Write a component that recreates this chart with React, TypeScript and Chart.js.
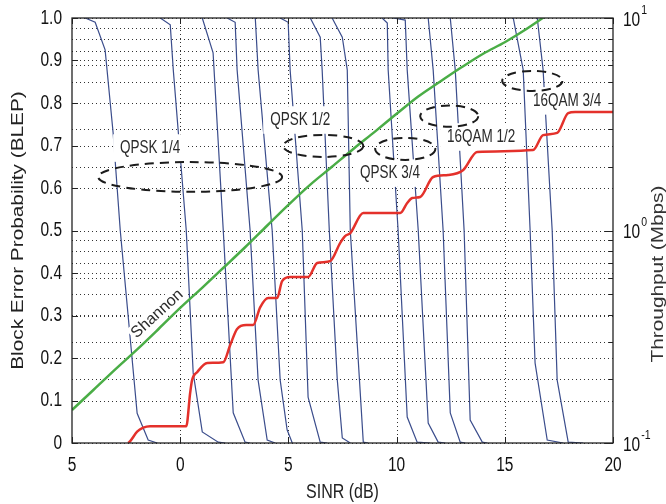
import React, { useEffect, useRef } from 'react';
import { Chart, registerables } from 'chart.js';

Chart.register(...registerables);

// ---- axes ----
const sinrTicks = [-5, 0, 5, 10, 15, 20];
const sinrTickLabels = ['5', '0', '5', '10', '15', '20'];
const blepTicks = [0, 0.1, 0.2, 0.3, 0.4, 0.5, 0.6, 0.7, 0.8, 0.9, 1.0];
const blepTickLabels = ['0', '0.1', '0.2', '0.3', '0.4', '0.5', '0.6', '0.7', '0.8', '0.9', '1.0'];
const throughputDecades = [0.1, 1, 10];
const throughputExponents = ['-1', '0', '1'];

// ---- BLEP curves (SINR dB, BLEP) ----
const blepCurveSinr: number[][] = [
  [-4.39, -3.93, -3.47, -3.10, -2.77, -1.99, -1.48, -1.06],
  [-0.92, -0.46, -0.32, 0.28, 0.60, 1.02, 1.76, 2.08],
  [1.02, 1.52, 1.99, 2.45, 3.00, 3.23],
  [2.17, 2.54, 2.63, 3.23, 3.60, 4.02, 4.39],
  [3.47, 3.60, 4.25, 4.62, 4.94, 5.18],
  [4.62, 4.99, 5.08, 5.64, 5.91, 6.47, 6.79],
  [6.01, 6.47, 6.56, 6.89, 7.26, 7.49, 7.86],
  [7.02, 7.49, 7.72, 7.86, 8.46, 8.69],
  [9.33, 9.57, 9.61, 10.07, 10.49, 10.95, 11.55],
  [9.84, 10.40, 10.49, 11.00, 11.46, 11.92, 12.25],
  [11.46, 11.69, 12.15, 12.48, 12.94, 13.17],
  [12.48, 12.71, 13.12, 13.40, 13.96, 14.19],
  [15.39, 15.85, 16.17, 16.40, 16.96, 17.70],
  [16.50, 16.77, 17.19, 17.42, 17.93, 18.62],
];
const blepCurveValues: number[][] = [
  [1, 0.99, 0.925, 0.73, 0.50, 0.07, 0.007, 0],
  [1, 0.984, 0.878, 0.50, 0.165, 0.026, 0.002, 0],
  [1, 0.918, 0.50, 0.071, 0.002, 0],
  [1, 0.99, 0.878, 0.50, 0.148, 0.007, 0],
  [1, 0.878, 0.50, 0.148, 0.031, 0],
  [1, 0.99, 0.878, 0.50, 0.108, 0.002, 0],
  [1, 0.955, 0.878, 0.50, 0.148, 0.012, 0],
  [1, 0.955, 0.878, 0.50, 0.002, 0],
  [1, 0.988, 0.878, 0.50, 0.061, 0.002, 0],
  [1, 0.995, 0.878, 0.50, 0.047, 0.002, 0],
  [1, 0.878, 0.50, 0.071, 0.002, 0],
  [1, 0.878, 0.50, 0.054, 0.002, 0],
  [1, 0.878, 0.50, 0.188, 0.007, 0],
  [1, 0.878, 0.50, 0.148, 0.002, 0],
];

// ---- Throughput (Mbps, log axis) ----
const throughputSinr = [-2.40, -2.31, -1.99, -1.71, -1.39, -1.06, 0.28, 0.46, 0.55, 0.79, 1.25, 1.99, 2.31, 2.63, 3.05, 3.37, 3.70, 4.07, 4.48, 4.71, 5.08, 5.91, 6.33, 6.93, 7.39, 7.62, 7.86, 8.46, 10.17, 10.49, 10.72, 11.09, 11.69, 12.38, 13.08, 13.72, 16.31, 16.77, 17.42, 17.93, 18.25, 20];
const throughputMbps = [0.1, 0.102, 0.113, 0.118, 0.120, 0.120, 0.120, 0.172, 0.198, 0.216, 0.238, 0.240, 0.289, 0.344, 0.359, 0.359, 0.436, 0.481, 0.481, 0.578, 0.604, 0.604, 0.703, 0.718, 0.873, 0.942, 0.973, 1.209, 1.209, 1.347, 1.422, 1.438, 1.786, 1.824, 1.926, 2.34, 2.39, 2.81, 2.88, 3.57, 3.61, 3.61];

const shannonSinr = [-5, -4, -3, -2, -1, 0, 1, 2, 3, 4, 5, 6, 7, 8, 9, 10, 11, 12, 13, 14, 15, 16, 17];
const shannonMbps = [0.143, 0.178, 0.222, 0.275, 0.344, 0.432, 0.536, 0.668, 0.834, 1.05, 1.32, 1.64, 1.99, 2.42, 2.92, 3.54, 4.27, 5.01, 5.86, 6.79, 7.69, 8.87, 10.4];

// ---- annotations (data coordinates) ----
const mcsLabels = ['QPSK 1/4', 'QPSK 1/2', 'QPSK 3/4', '16QAM 1/2', '16QAM 3/4'];
const mcsLabelSinr = [-1.39, 5.55, 9.70, 13.91, 17.88];
const mcsLabelBlep = [0.694, 0.760, 0.635, 0.720, 0.805];
const mcsEllipseSinr = [0.46, 6.61, 10.40, 12.43, 16.27];
const mcsEllipseBlep = [0.626, 0.699, 0.692, 0.769, 0.852];
const mcsEllipseHalfDb = [4.25, 1.85, 1.39, 1.34, 1.39];
const mcsEllipseHalfBlep = [0.035, 0.026, 0.026, 0.025, 0.0235];
const shannonLabel = 'Shannon';
const shannonLabelSinr = -1.06;
const shannonLabelBlep = 0.304;

const FONT = "'Liberation Sans', Arial, Helvetica, sans-serif";
const STRETCH = 1.3;
const GREEN_INDEX = blepCurveSinr.length;

function drawText(ctx: CanvasRenderingContext2D, text: string, x: number, y: number, size: number, color: string, align: CanvasTextAlign, vertical = false) {
  ctx.save();
  ctx.translate(x, y);
  if (vertical) {
    ctx.rotate(-Math.PI / 2);
    ctx.scale(STRETCH, 1);
  } else {
    ctx.scale(1, STRETCH);
  }
  ctx.font = `${size}px ${FONT}`;
  ctx.fillStyle = color;
  ctx.textAlign = align;
  ctx.textBaseline = 'middle';
  ctx.fillText(text, 0, 0);
  ctx.restore();
}

const gridPlugin = {
  id: 'gridPlugin',
  beforeDatasetsDraw(chart: any) {
    const { ctx, chartArea, scales } = chart;
    const { left, right, top, bottom } = chartArea;
    ctx.save();
    ctx.strokeStyle = '#333333';
    ctx.lineWidth = 1;
    ctx.setLineDash([1, 3]);
    const hLine = (py: number) => {
      const y = Math.round(py) + 0.5;
      ctx.beginPath(); ctx.moveTo(left, y); ctx.lineTo(right, y); ctx.stroke();
    };
    sinrTicks.forEach((v) => {
      if (v <= sinrTicks[0] || v >= sinrTicks[sinrTicks.length - 1]) return;
      const x = Math.round(scales.x.getPixelForValue(v)) + 0.5;
      ctx.beginPath(); ctx.moveTo(x, top); ctx.lineTo(x, bottom); ctx.stroke();
    });
    blepTicks.forEach((v) => hLine(scales.y.getPixelForValue(v)));
    for (let d = 0; d < throughputDecades.length - 1; d++) {
      for (let m = 2; m <= 9; m++) hLine(scales.y2.getPixelForValue(throughputDecades[d] * m));
    }
    ctx.restore();
  },
  beforeDatasetDraw(chart: any, args: any) {
    if (args.index !== GREEN_INDEX) return;
    const { ctx, scales } = chart;
    const xs = scales.x, ys = scales.y;
    // MCS labels with white backgrounds (hide the BLEP curves beneath)
    ctx.save();
    const LS = 13.5;
    ctx.font = `${LS}px ${FONT}`;
    mcsLabels.forEach((t, i) => {
      const cx = xs.getPixelForValue(mcsLabelSinr[i]);
      const cy = ys.getPixelForValue(mcsLabelBlep[i]);
      const w = ctx.measureText(t).width;
      const h = LS * STRETCH;
      ctx.fillStyle = '#ffffff';
      ctx.fillRect(cx - w / 2 - 7, cy - h / 2 - 5, w + 14, h + 10);
      drawText(ctx, t, cx, cy, LS, '#2a2a2a', 'center');
    });
    {
      const cx = xs.getPixelForValue(shannonLabelSinr);
      const cy = ys.getPixelForValue(shannonLabelBlep);
      ctx.save();
      ctx.translate(cx, cy);
      ctx.rotate(-0.74);
      ctx.font = `16px ${FONT}`;
      const w = ctx.measureText(shannonLabel).width;
      ctx.fillStyle = '#ffffff';
      ctx.fillRect(-w / 2 - 2, -9, w + 4, 18);
      ctx.fillStyle = '#2a2a2a';
      ctx.textAlign = 'center';
      ctx.textBaseline = 'middle';
      ctx.fillText(shannonLabel, 0, 0);
      ctx.restore();
    }
    ctx.restore();
  },
  afterDraw(chart: any) {
    const { ctx, chartArea, scales } = chart;
    const { left, right, top, bottom } = chartArea;
    const xs = scales.x, ys = scales.y, y2 = scales.y2;

    // dashed ellipses
    ctx.save();
    ctx.strokeStyle = '#1c1c1c';
    ctx.lineWidth = 2;
    ctx.setLineDash([9, 6]);
    mcsEllipseSinr.forEach((s, i) => {
      const cx = xs.getPixelForValue(s);
      const cy = ys.getPixelForValue(mcsEllipseBlep[i]);
      const rx = Math.abs(xs.getPixelForValue(s + mcsEllipseHalfDb[i]) - cx);
      const ry = Math.abs(ys.getPixelForValue(mcsEllipseBlep[i] + mcsEllipseHalfBlep[i]) - cy);
      ctx.beginPath();
      ctx.ellipse(cx, cy, rx, ry, 0, 0, Math.PI * 2);
      ctx.stroke();
    });
    ctx.restore();

    // frame + inward ticks
    ctx.save();
    ctx.strokeStyle = '#222';
    ctx.lineWidth = 1.3;
    ctx.strokeRect(left, top, right - left, bottom - top);
    ctx.lineWidth = 1;
    ctx.beginPath();
    blepTicks.forEach((v) => {
      const y = Math.round(ys.getPixelForValue(v)) + 0.5;
      ctx.moveTo(left, y); ctx.lineTo(left + 6, y);
    });
    sinrTicks.forEach((v) => {
      const x = Math.round(xs.getPixelForValue(v)) + 0.5;
      ctx.moveTo(x, bottom); ctx.lineTo(x, bottom - 6);
      ctx.moveTo(x, top); ctx.lineTo(x, top + 6);
    });
    throughputDecades.forEach((v, d) => {
      const y = Math.round(y2.getPixelForValue(v)) + 0.5;
      ctx.moveTo(right, y); ctx.lineTo(right - 8, y);
      if (d < throughputDecades.length - 1) {
        for (let m = 2; m <= 9; m++) {
          const ym = Math.round(y2.getPixelForValue(v * m)) + 0.5;
          ctx.moveTo(right, ym); ctx.lineTo(right - 4, ym);
        }
      }
    });
    ctx.stroke();
    ctx.restore();

    // tick labels
    sinrTicks.forEach((v, i) => {
      drawText(ctx, sinrTickLabels[i], xs.getPixelForValue(v), bottom + 22, 15.5, '#111', 'center');
    });
    blepTicks.forEach((v, i) => {
      drawText(ctx, blepTickLabels[i], left - 10, ys.getPixelForValue(v), 15.5, '#111', 'right');
    });
    throughputDecades.forEach((v, i) => {
      const py = y2.getPixelForValue(v);
      const x0 = right + 10;
      drawText(ctx, '10', x0, py + 2, 15.5, '#111', 'left');
      ctx.save();
      ctx.font = `15.5px ${FONT}`;
      const w = ctx.measureText('10').width;
      ctx.restore();
      drawText(ctx, throughputExponents[i], x0 + w + 1, py - 8, 10.5, '#111', 'left');
    });

    // axis titles
    drawText(ctx, 'SINR (dB)', (left + right) / 2, 492, 16, '#222', 'center');
    drawText(ctx, 'Block Error Probability (BLEP)', 19, (top + bottom) / 2, 16, '#222', 'center', true);
    drawText(ctx, 'Throughput (Mbps)', 659, 274, 16, '#333', 'center', true);
  },
};

export default function App() {
  const ref = useRef<HTMLCanvasElement>(null);
  useEffect(() => {
    const blueSets = blepCurveSinr.map((xsArr, i) => ({
      label: `BLEP ${i + 1}`,
      data: xsArr.map((x, j) => ({ x, y: blepCurveValues[i][j] })),
      borderColor: '#3b4d8c',
      borderWidth: 1.2,
      pointRadius: 0,
      tension: 0,
      fill: false,
      order: 2,
      xAxisID: 'x',
      yAxisID: 'y',
    }));
    const chart = new Chart(ref.current as HTMLCanvasElement, {
      type: 'line',
      data: {
        datasets: [
          ...blueSets,
          {
            label: 'Shannon',
            data: shannonSinr.map((x, j) => ({ x, y: shannonMbps[j] })),
            borderColor: '#4aad46',
            borderWidth: 2.5,
            pointRadius: 0,
            cubicInterpolationMode: 'monotone',
            fill: false,
            order: 1,
            xAxisID: 'x',
            yAxisID: 'y2',
          },
          {
            label: 'Throughput',
            data: throughputSinr.map((x, j) => ({ x, y: throughputMbps[j] })),
            borderColor: '#e4312b',
            borderWidth: 2.5,
            pointRadius: 0,
            cubicInterpolationMode: 'monotone',
            fill: false,
            order: 0,
            xAxisID: 'x',
            yAxisID: 'y2',
          },
        ] as any,
      },
      options: {
        responsive: true,
        maintainAspectRatio: false,
        animation: false,
        events: [],
        layout: { padding: { top: 18, left: 0, right: 0, bottom: 0 }, autoPadding: false } as any,
        plugins: { legend: { display: false }, tooltip: { enabled: false } },
        scales: {
          x: {
            type: 'linear', min: -5, max: 20,
            ticks: { display: false, stepSize: 5 },
            grid: { display: false },
            border: { display: false },
            afterFit: (s: any) => { s.height = 61; },
          },
          y: {
            type: 'linear', position: 'left', min: 0, max: 1,
            ticks: { display: false, stepSize: 0.1 },
            grid: { display: false },
            border: { display: false },
            afterFit: (s: any) => { s.width = 72; },
          },
          y2: {
            type: 'logarithmic', position: 'right', min: 0.1, max: 10,
            ticks: { display: false },
            grid: { display: false },
            border: { display: false },
            afterFit: (s: any) => { s.width = 53; },
          },
        } as any,
      },
      plugins: [gridPlugin],
    });
    return () => chart.destroy();
  }, []);
  return (
    <div style={{ position: 'fixed', left: 0, top: 0, width: 666, height: 504, background: '#ffffff' }}>
      <canvas ref={ref} />
    </div>
  );
}
